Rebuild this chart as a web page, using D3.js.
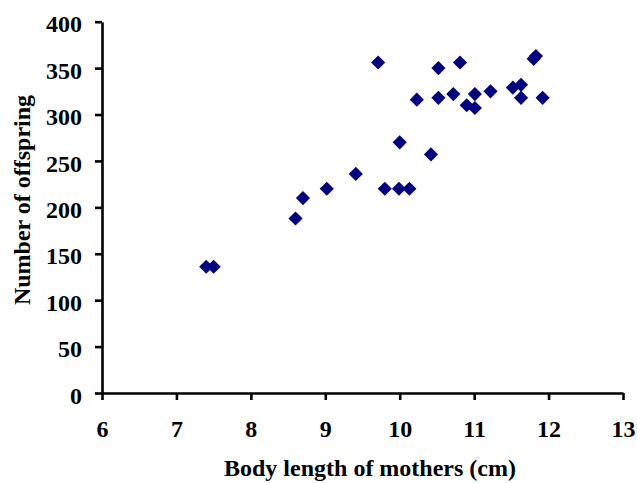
<!DOCTYPE html>
<html>
<head>
<meta charset="utf-8">
<script src="https://d3js.org/d3.v7.min.js"></script>
<style>
  body { margin: 0; background: #fff; }
  text { font-family: "Liberation Serif", "Times New Roman", serif; font-weight: bold; }
</style>
</head>
<body>
<div class="canvas"></div>
<script>
// data
const bodyLength = [7.4, 7.5, 8.6, 8.7, 9.02, 9.41, 9.71, 9.8, 9.99, 10.13, 10.0, 10.23, 10.42, 10.52, 10.52,
  10.72, 10.81, 10.9, 11.01, 11.01, 11.22, 11.52, 11.63, 11.63, 11.8, 11.83, 11.92];
const offspring = [136, 136, 188, 210, 220, 236, 356, 220, 220, 220, 270, 316, 257, 350, 318,
  322, 356, 310, 307, 322, 325, 329, 332, 318, 360, 363, 318];
const xTicks = [6, 7, 8, 9, 10, 11, 12, 13];
const yTicks = [0, 50, 100, 150, 200, 250, 300, 350, 400];

const dims = { width: 637, height: 483 };
const plot = { left: 102, right: 623, top: 21.7, bottom: 393 };

const svg = d3.select('.canvas')
  .append('svg')
  .attr('width', dims.width)
  .attr('height', dims.height);

const x = d3.scaleLinear().domain([6, 13]).range([plot.left, plot.right]);
const y = d3.scaleLinear().domain([0, 400]).range([plot.bottom, plot.top]);

// axes
const xAxis = svg.append('g')
  .attr('transform', `translate(0, ${plot.bottom})`)
  .call(d3.axisBottom(x).tickValues(xTicks).tickFormat(d3.format('d')).tickSize(7).tickSizeOuter(0));

const yAxis = svg.append('g')
  .attr('transform', `translate(${plot.left}, 0)`)
  .call(d3.axisLeft(y).tickValues(yTicks).tickFormat(d3.format('d')).tickSize(7).tickSizeOuter(0).tickPadding(13));

[xAxis, yAxis].forEach(g => {
  g.select('.domain').attr('stroke', '#000').attr('stroke-width', 2.6);
  g.selectAll('.tick line').attr('stroke', '#000').attr('stroke-width', 2.6);
  g.selectAll('.tick text').attr('fill', '#000').style('font-size', '24px');
});
xAxis.selectAll('.tick text').attr('y', 44).attr('dy', '0');
yAxis.selectAll('.tick text').attr('dy', '0.42em');

// titles
svg.append('text')
  .attr('x', 370)
  .attr('y', 476)
  .attr('text-anchor', 'middle')
  .style('font-size', '24px')
  .text('Body length of mothers (cm)');

svg.append('text')
  .attr('transform', 'translate(30, 200) rotate(-90)')
  .attr('text-anchor', 'middle')
  .style('font-size', '24px')
  .text('Number of offspring');

// points
const diamond = d3.symbol().type(d3.symbolSquare).size(100);
svg.append('g')
  .selectAll('path')
  .data(bodyLength.map((d, i) => ({ x: d, y: offspring[i] })))
  .enter()
  .append('path')
    .attr('d', diamond)
    .attr('transform', d => `translate(${x(d.x)}, ${y(d.y)}) rotate(45)`)
    .attr('fill', '#000080');
</script>
</body>
</html>
